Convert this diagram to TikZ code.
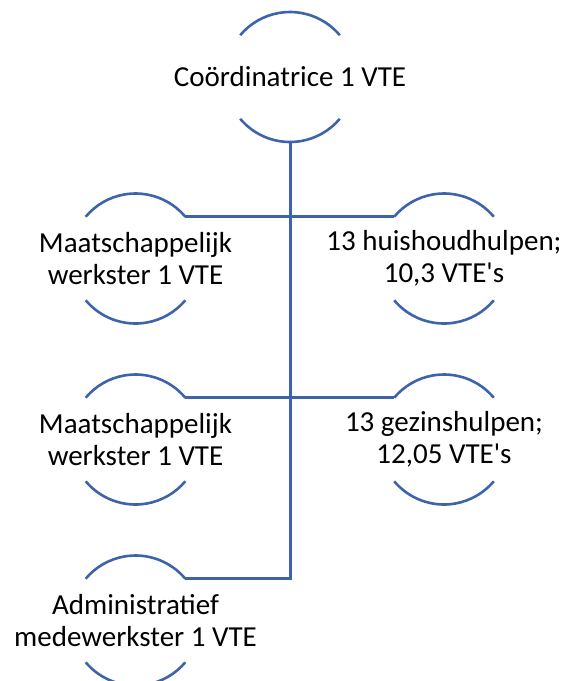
\documentclass[tikz,border=0pt]{standalone}
\usepackage{fontspec}
\setmainfont{Carlito}
\definecolor{orgblue}{RGB}{61,99,170}

\begin{document}
\begin{tikzpicture}[x=1pt,y=1pt,
    unit/.style={circle,minimum size=130pt,inner sep=0pt,outer sep=0pt},
    caption/.style={align=center,inner sep=0pt,font=\fontsize{29}{31.5}\selectfont},
    rim/.style={draw=orgblue,line width=2.6pt},
    link/.style={draw=orgblue,line width=3pt}]
    \useasboundingbox (0,0) rectangle (568,-681);
    \node[unit,label={[caption]center:{Coördinatrice 1 VTE}}] (coord) at (290,-77) {};
    \node[unit,label={[caption]center:{Maatschappelijk\\werkster 1 VTE}}] (mwA) at (135.5,-258.5) {};
    \node[unit,label={[caption]center:{13 huishoudhulpen;\\10,3 VTE\textquotesingle s}}] (huis) at (444,-258.5) {};
    \node[unit,label={[caption]center:{Maatschappelijk\\werkster 1 VTE}}] (mwB) at (135.5,-439.5) {};
    \node[unit,label={[caption]center:{13 gezinshulpen;\\12,05 VTE\textquotesingle s}}] (gezin) at (444,-439.5) {};
    \node[unit,label={[caption]center:{Administratief\\medewerkster 1 VTE}}] (admin) at (135.5,-620.5) {};
    \foreach \n in {coord,mwA,huis,mwB,gezin,admin} {
        \draw[rim] (\n.40) arc[start angle=40,end angle=140,radius=65];
        \draw[rim] (\n.220) arc[start angle=220,end angle=320,radius=65];
    }
    \draw[link] (coord.south) |- (admin.40);
    \draw[link] (mwA.40) -- (huis.140);
    \draw[link] (mwB.40) -- (gezin.140);
\end{tikzpicture}
\end{document}
